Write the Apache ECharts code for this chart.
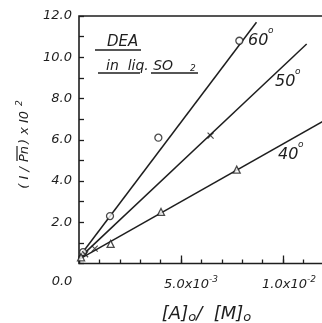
<!DOCTYPE html>
<html>
<head>
<meta charset="utf-8">
<script src="https://cdn.jsdelivr.net/npm/echarts@6/dist/echarts.min.js"></script>
<style>
  html, body { margin: 0; padding: 0; background: #ffffff; }
  #chart { width: 322px; height: 323px; }
</style>
</head>
<body>
<div id="chart"></div>
<script>
// Measured points: [ [A]0/[M]0 , (1/Pn) x 10^2 ]
const pts60 = [[0.0002, 0.55], [0.00152, 2.3], [0.00389, 6.1], [0.00786, 10.8]];
const pts50 = [[0.0003, 0.45], [0.00077, 0.72], [0.00645, 6.2]];
const pts40 = [[0.0001, 0.3], [0.00155, 0.95], [0.00402, 2.5], [0.00773, 4.55]];

// Straight-line fits drawn through each temperature set
const fit60 = [[0, 0.3], [0.0087, 11.7]];
const fit50 = [[0, 0.25], [0.01116, 10.64]];
const fit40 = [[0, 0.2], [0.0125, 7.2]];

const tempLabels = ['60', '50', '40'];
const yTickLabels = { 2: '2.0', 4: '4.0', 6: '6.0', 8: '8.0', 10: '10.0', 12: '12.0' };
const xTickLabels = { 0: '{z|0.0}', 5: '{a|5.0x10}{e|-3}', 10: '{b|1.0x10}{e|-2}' };

const INK = '#1e1e1e';
const FONT = 'DejaVu Sans';

const chart = echarts.init(document.getElementById('chart'), null, { renderer: 'canvas' });

const txt = (x, y, text, size, extra) => Object.assign({
  type: 'text', x, y,
  style: { text, fill: INK, font: 'italic ' + size + 'px "' + FONT + '"', ...(extra || {}) }
});

const option = {
  backgroundColor: '#ffffff',
  animation: false,
  grid: {
    left: 79, top: 16, width: 255, height: 247.5,
    show: true, borderColor: INK, borderWidth: 1.6,
    containLabel: false, outerBoundsMode: 'none'
  },
  xAxis: [
    {
      type: 'value', position: 'bottom', min: 0, max: 0.0125, interval: 0.001,
      axisLine: { show: false },
      axisTick: { show: true, inside: true, length: 4, lineStyle: { color: INK, width: 1.3 } },
      axisLabel: { show: false },
      splitLine: { show: false },
      name: '{t|[A]}{s|o}{t|/  [M]}{s|o}', nameLocation: 'middle', nameGap: 40,
      nameTextStyle: {
        rich: {
          t: { fontFamily: FONT, fontStyle: 'italic', fontSize: 18, color: INK },
          s: { fontFamily: FONT, fontStyle: 'italic', fontSize: 13, color: INK, padding: [8, 0, 0, 0] }
        }
      }
    },
    {
      type: 'value', position: 'bottom', min: 0, max: 0.0125, interval: 0.005,
      axisLine: { show: false },
      axisTick: { show: true, inside: true, length: 8, lineStyle: { color: INK, width: 1.3 } },
      splitLine: { show: false },
      axisLabel: {
        show: true, margin: 12,
        formatter: v => xTickLabels[Math.round(v * 1000)] || '',
        rich: {
          z: { fontFamily: FONT, fontStyle: 'italic', fontSize: 13, color: INK, padding: [0, 34, 0, 0] },
          a: { fontFamily: FONT, fontStyle: 'italic', fontSize: 13, color: INK, padding: [0, 0, 0, 20] },
          b: { fontFamily: FONT, fontStyle: 'italic', fontSize: 13, color: INK, padding: [0, 0, 0, 12] },
          e: { fontFamily: FONT, fontStyle: 'italic', fontSize: 9, color: INK, padding: [0, 0, 9, 0] }
        }
      }
    }
  ],
  yAxis: {
    type: 'value', min: 0, max: 12, interval: 1,
    axisLine: { show: false },
    axisTick: { show: true, inside: true, length: 5, lineStyle: { color: INK, width: 1.3 } },
    splitLine: { show: false },
    axisLabel: {
      margin: 7, color: INK, fontFamily: FONT, fontStyle: 'italic', fontSize: 13,
      formatter: v => yTickLabels[Math.round(v)] || ''
    }
  },
  series: [
    { type: 'line', data: fit60, showSymbol: false, lineStyle: { color: INK, width: 1.5 }, z: 2 },
    { type: 'line', data: fit50, showSymbol: false, lineStyle: { color: INK, width: 1.5 }, z: 2 },
    { type: 'line', data: fit40, showSymbol: false, lineStyle: { color: INK, width: 1.5 }, z: 2 },
    {
      type: 'scatter', data: pts60, symbol: 'circle', symbolSize: 7, z: 3,
      itemStyle: { color: '#ffffff', borderColor: INK, borderWidth: 1.3 }
    },
    {
      type: 'scatter', data: pts50, symbol: 'path://M0,0L10,10M10,0L0,10', symbolSize: 6, z: 3,
      itemStyle: { color: 'none', borderColor: INK, borderWidth: 1.2 }
    },
    {
      type: 'scatter', data: pts40, symbol: 'triangle', symbolSize: 7, z: 3,
      itemStyle: { color: '#ffffff', borderColor: INK, borderWidth: 1.3 }
    }
  ],
  graphic: [
    // caption
    txt(107, 35, 'DEA', 15),
    { type: 'line', shape: { x1: 95, y1: 50, x2: 141, y2: 50 }, style: { stroke: INK, lineWidth: 1.3 } },
    txt(106, 59, 'in  liq. SO', 14),
    txt(190, 64, '2', 9),
    { type: 'line', shape: { x1: 98, y1: 73, x2: 140, y2: 73 }, style: { stroke: INK, lineWidth: 1.3 } },
    { type: 'line', shape: { x1: 151, y1: 73, x2: 198, y2: 73 }, style: { stroke: INK, lineWidth: 1.3 } },
    // temperature tags
    txt(248, 33, tempLabels[0], 16), txt(268, 26, 'o', 9),
    txt(275, 74, tempLabels[1], 16), txt(295, 67, 'o', 9),
    txt(278, 147, tempLabels[2], 16), txt(298, 140, 'o', 9),
    // y axis title, reading upward
    {
      type: 'group', x: 25, y: 154, rotation: Math.PI / 2,
      children: [
        { type: 'text', x: -9, y: 0, style: { text: '( I / ', fill: INK, font: 'italic 13px "' + FONT + '"', align: 'right', verticalAlign: 'middle' } },
        { type: 'text', x: 0, y: 0, style: { text: 'Pn', fill: INK, font: 'italic 13px "' + FONT + '"', align: 'center', verticalAlign: 'middle' } },
        { type: 'line', shape: { x1: -7, y1: -8, x2: 8, y2: -8 }, style: { stroke: INK, lineWidth: 1.2 } },
        { type: 'text', x: 10, y: 0, style: { text: ') x I0', fill: INK, font: 'italic 13px "' + FONT + '"', align: 'left', verticalAlign: 'middle' } },
        { type: 'text', x: 48, y: -5, style: { text: '2', fill: INK, font: 'italic 9px "' + FONT + '"', align: 'left', verticalAlign: 'middle' } }
      ]
    }
  ]
};

chart.setOption(option);
</script>
</body>
</html>
